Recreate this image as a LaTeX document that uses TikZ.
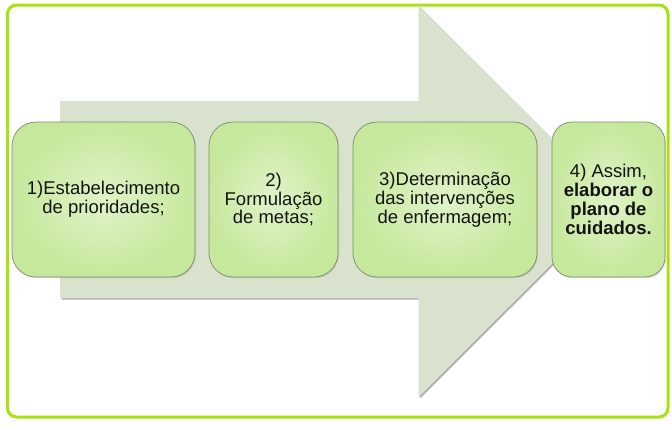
\documentclass[tikz,border=0pt]{standalone}
\usepackage{fontspec}
\setmainfont{Liberation Sans}
\usetikzlibrary{shadows}
\definecolor{framegreen}{RGB}{168,226,18}
\definecolor{arrowgray}{RGB}{217,226,204}
\definecolor{boxin}{RGB}{224,243,200}
\definecolor{boxout}{RGB}{198,232,156}
\definecolor{boxline}{RGB}{125,140,112}
\definecolor{txt}{RGB}{20,20,20}
\begin{document}
\begin{tikzpicture}[x=1bp,y=-1bp,
  stepbox/.style={draw=boxline, line width=0.7bp, rounded corners=24bp,
    shading=radial, inner color=boxin, outer color=boxout,
    drop shadow={opacity=0.25, shadow xshift=1bp, shadow yshift=-1.2bp},
    minimum height=155bp, align=center, text=txt, inner sep=2bp,
    font=\fontsize{18.5bp}{18.8bp}\selectfont}]
  \useasboundingbox (0,0) rectangle (672,429);
  % outer frame
  \draw[framegreen, line width=3bp, rounded corners=9bp, fill=white] (7.5,5) rectangle (668,417);
  % big arrow behind the steps
  \fill[black!30] (61.5,102.5) -- (420,102.5) -- (420,7) -- (616.5,202.5) -- (420,398.5) -- (420,299.5) -- (61.5,299.5) -- cycle;
  \fill[arrowgray] (60,101) -- (418.5,101) -- (418.5,5.5) -- (615,201) -- (418.5,397) -- (418.5,298) -- (60,298) -- cycle;
  % steps
  \node (prioridades) at (103.5,199.5) [stepbox, minimum width=183bp] {1)Estabelecimento\\ de prioridades;};
  \node (metas) at (273.5,199.5) [stepbox, minimum width=129bp] {2)\\ Formulação\\ de metas;};
  \node (intervencoes) at (445,199.5) [stepbox, minimum width=184bp] {3)Determinação\\ das intervenções\\ de enfermagem;};
  \node (plano) at (608.5,199.5) [stepbox, minimum width=113bp, rounded corners=20bp]
    {4) Assim,\\ \textbf{elaborar o}\\ \textbf{plano de}\\ \textbf{cuidados.}};
\end{tikzpicture}
\end{document}
